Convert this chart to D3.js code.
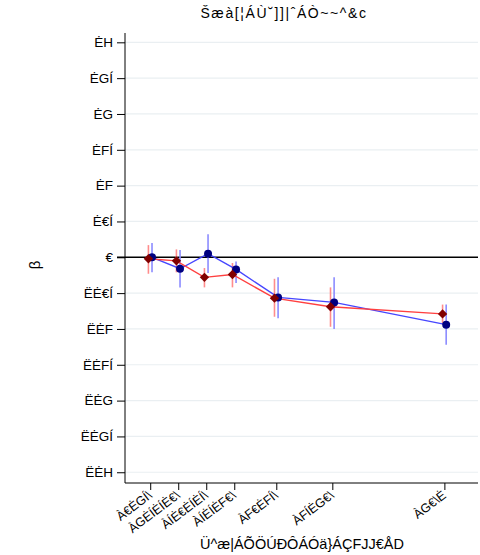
<!DOCTYPE html>
<html>
<head>
<meta charset="utf-8">
<script src="https://cdn.jsdelivr.net/npm/d3@7"></script>
<style>
  html, body { margin: 0; padding: 0; background: #fff; }
  svg text { font-family: "Liberation Sans Narrow", "Liberation Sans", Arial, sans-serif; fill: #000; }
</style>
</head>
<body>
<svg id="chart" width="480" height="555"></svg>
<script>
// Bin positions (midpoints) and their labels
const binPos = [0.125, 0.375, 0.625, 0.875, 1.25, 1.75, 2.75];
const binLabels = ["À€ĖGÍ\\", "ÀGĖÍĖÍĖ€\\", "ÀÍĖ€ĖÍĖÍ\\", "ÀÍĖÍĖF€\\", "ÀF€ĖFÍ\\", "ÀFÍĖG€\\", "ÀG€\\Ė"];

// Y ticks and their labels
const yTicks = [0.3, 0.25, 0.2, 0.15, 0.1, 0.05, 0, -0.05, -0.1, -0.15, -0.2, -0.25, -0.3];
const yTickLabels = ["ĖH", "ĖGÍ", "ĖG", "ĖFÍ", "ĖF", "Ė€Í", "€", "ËĖ€Í", "ËĖF", "ËĖFÍ", "ËĖG", "ËĖGÍ", "ËĖH"];

// Estimates with confidence bounds
const redEst = [-0.002, -0.005, -0.028, -0.024, -0.057, -0.069, -0.079];
const redLo  = [-0.023, -0.021, -0.042, -0.042, -0.083, -0.097, -0.092];
const redHi  = [ 0.017,  0.011, -0.015, -0.008, -0.030, -0.042, -0.066];

const blueEst = [ 0.000, -0.016,  0.005, -0.017, -0.056, -0.063, -0.094];
const blueLo  = [-0.021, -0.042, -0.022, -0.036, -0.085, -0.100, -0.122];
const blueHi  = [ 0.020,  0.010,  0.032, -0.006, -0.028, -0.028, -0.066];

const titleText = "Šæà[¦ÁÙ˘]]|ˆÁÒ~~^&c";
const xTitle = "Ü^æ|ÁÕÖÚÐÔÁÓä}ÁÇFJJ€ÅD";
const yTitle = "β";

const svg = d3.select("#chart");
const plotL = 125, plotR = 478, plotT = 33, plotB = 483;

const x = d3.scaleLinear().domain([-0.1, 3.05]).range([plotL, plotR]);
const y = d3.scaleLinear().domain([-0.315, 0.313]).range([plotB, plotT]);

// light horizontal grid
svg.append("g").selectAll("line").data(yTicks.filter(d => d !== 0)).join("line")
  .attr("x1", plotL).attr("x2", plotR)
  .attr("y1", d => y(d)).attr("y2", d => y(d))
  .attr("stroke", "#eaeff2").attr("stroke-width", 1.2);

// y axis
const yAxis = d3.axisLeft(y).tickValues(yTicks)
  .tickFormat((d, i) => yTickLabels[i]).tickSize(8).tickPadding(4);
const gy = svg.append("g").attr("transform", `translate(${plotL},0)`).call(yAxis);
gy.select(".domain").attr("d", `M0,${plotT}V${plotB}`).attr("stroke", "#000");
gy.selectAll(".tick line").attr("stroke", "#000");
gy.selectAll(".tick text").style("font-size", "13.5px");

// x axis
const xAxis = d3.axisBottom(x).tickValues(binPos)
  .tickFormat((d, i) => binLabels[i]).tickSize(7);
const gx = svg.append("g").attr("transform", `translate(0,${plotB})`).call(xAxis);
gx.select(".domain").attr("d", `M${plotL},0H${plotR}`).attr("stroke", "#000");
gx.selectAll(".tick line").attr("stroke", "#000");
gx.selectAll(".tick text")
  .style("font-size", "12.5px")
  .attr("text-anchor", "end")
  .attr("dy", null).attr("y", 0)
  .attr("transform", "translate(2,14) rotate(-37)");

// zero reference line
svg.append("line")
  .attr("x1", plotL - 8).attr("x2", plotR)
  .attr("y1", y(0)).attr("y2", y(0))
  .attr("stroke", "#000").attr("stroke-width", 1.5);

const dodge = 1.8;
const series = [
  { est: blueEst, lo: blueLo, hi: blueHi, off: dodge, line: "#4646ff", bar: "#8c8cff", mark: "#000080", shape: d3.symbolCircle, size: 50, rot: 0 },
  { est: redEst, lo: redLo, hi: redHi, off: -dodge, line: "#ff4040", bar: "#ff8c8c", mark: "#800000", shape: d3.symbolSquare, size: 44, rot: 45 }
];

// error bars
series.forEach(s => {
  svg.append("g").selectAll("line").data(binPos).join("line")
    .attr("x1", (d) => x(d) + s.off).attr("x2", (d) => x(d) + s.off)
    .attr("y1", (d, i) => y(s.lo[i])).attr("y2", (d, i) => y(s.hi[i]))
    .attr("stroke", s.bar).attr("stroke-width", 1.6);
});

// connecting lines
series.forEach(s => {
  const line = d3.line().x((d) => x(d) + s.off).y((d, i) => y(s.est[i]));
  svg.append("path").datum(binPos).attr("d", line)
    .attr("fill", "none").attr("stroke", s.line).attr("stroke-width", 1.4);
});

// markers
series.forEach(s => {
  svg.append("g").selectAll("path").data(binPos).join("path")
    .attr("transform", (d, i) => `translate(${x(d) + s.off},${y(s.est[i])}) rotate(${s.rot})`)
    .attr("d", d3.symbol().type(s.shape).size(s.size))
    .attr("fill", s.mark);
});

// titles
svg.append("text").attr("x", 284).attr("y", 18).attr("text-anchor", "middle")
  .style("font-size", "14px").style("letter-spacing", "1.6px").text(titleText);
svg.append("text").attr("x", 302).attr("y", 549).attr("text-anchor", "middle")
  .style("font-size", "14.5px").text(xTitle);
svg.append("text").attr("transform", `translate(40,265) rotate(-90)`).attr("text-anchor", "middle")
  .style("font-size", "15px").text(yTitle);
</script>
</body>
</html>
